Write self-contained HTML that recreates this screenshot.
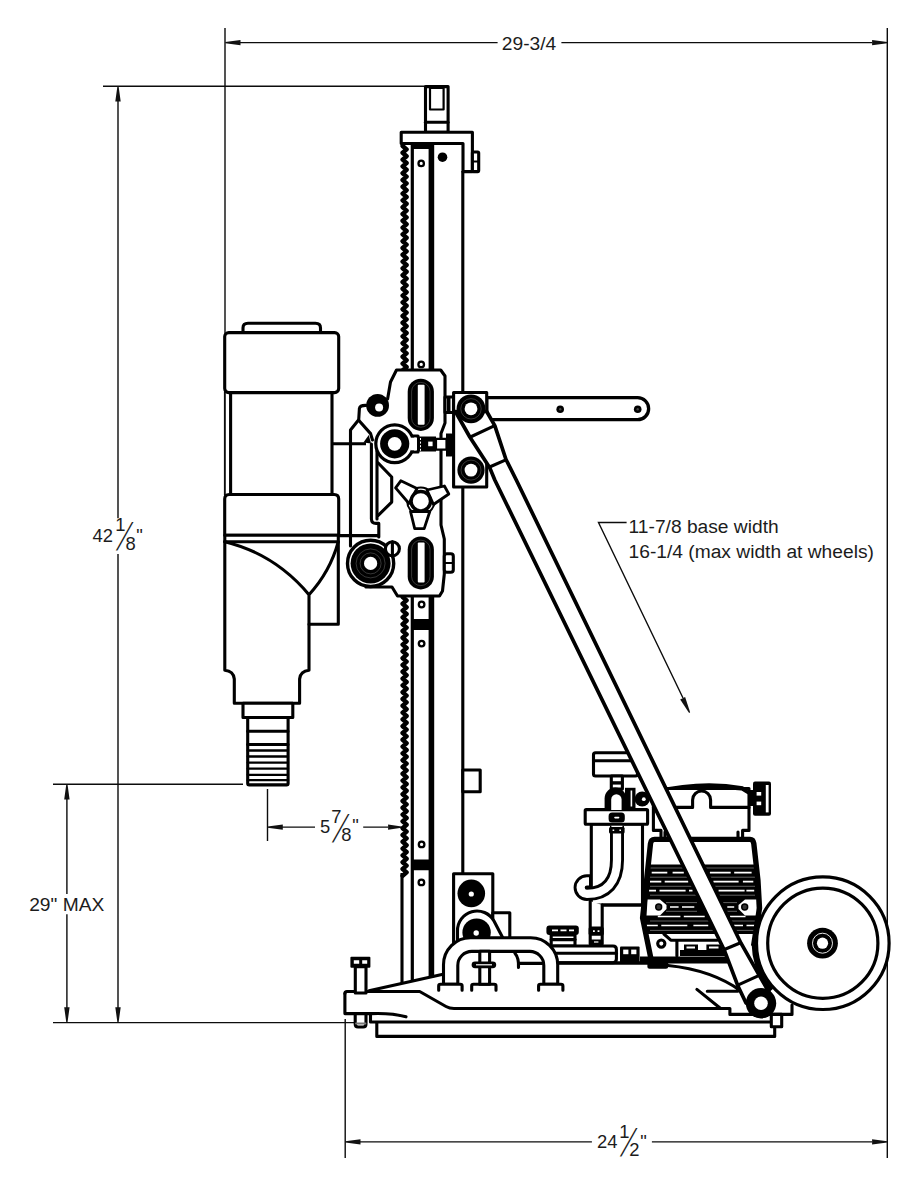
<!DOCTYPE html>
<html lang="en">
<head>
<meta charset="utf-8">
<title>Core drill rig dimensions</title>
<style>
html,body{margin:0;padding:0;background:#fff;}
body{width:921px;height:1200px;overflow:hidden;font-family:"Liberation Sans",sans-serif;}
svg{display:block;}
.t{stroke:#000;stroke-width:3.1;fill:none;stroke-linejoin:round;stroke-linecap:round;}
.tw{stroke:#000;stroke-width:3.1;fill:#fff;stroke-linejoin:round;stroke-linecap:round;}
.m{stroke:#000;stroke-width:1.8;fill:none;stroke-linejoin:round;stroke-linecap:round;}
.d{stroke:#0c0c0c;stroke-width:1.4;fill:none;}
.a{fill:#111;stroke:none;}
.k{fill:#000;stroke:none;}
.w{fill:#fff;stroke:none;}
.f{font-size:18.4px}
.fs{font-size:18.7px}
.n{font-size:19.2px}
text{font-family:"Liberation Sans",sans-serif;font-size:19.2px;fill:#1c1c1c;}
</style>
</head>
<body>
<svg width="921" height="1200" viewBox="0 0 921 1200">
<rect width="921" height="1200" fill="#fff"/>

<!-- DIMENSIONS -->
<g id="dims">
<!-- top 29-3/4 -->
<path class="d" d="M225 28V500M887.3 28V1158M240 42.6H497.6M561.4 42.6H872"/>
<path class="a" d="M225.3 42.0L240.5 39.9L240.5 45.3L225.3 43.2zM887.3 43.2L872.1 45.3L872.1 39.9L887.3 42.0z"/>
<text x="501.8" y="49.5">29-3/4</text>
<!-- left 42 1/8 -->
<path class="d" d="M103 86.3H425M118 100V518.2M118 553.9V1008M53 784.2H243M53 1022.6H354M66.9 799V894M66.9 914.3V1008"/>
<path class="a" d="M118.6 86.2L120.7 101.4L115.3 101.4L117.4 86.2zM117.4 1022.4L115.3 1007.2L120.7 1007.2L118.6 1022.4zM67.5 784.2L69.6 799.4L64.2 799.4L66.3 784.2zM66.3 1022.4L64.2 1007.2L69.6 1007.2L67.5 1022.4z"/>
<text x="92.6" y="541.5" class="f">42</text>
<text x="115.3" y="531.3" class="f">1</text>
<text x="125.6" y="549.5" class="f">8</text>
<text x="136.2" y="541.5" class="f">"</text>
<text class="fs" transform="matrix(1.07 0 -0.877 2.07 116 550.4)" x="0" y="0">/</text>
<text x="29.2" y="910.9">29" MAX</text>
<!-- 5 7/8 -->
<path class="d" d="M267.5 789V841M282 827.1H315M363.2 827.1H388"/>
<path class="a" d="M267.6 826.5L282.8 824.4L282.8 829.8L267.6 827.7zM401.6 827.7L388.1 829.8L388.1 824.4L401.6 826.5z"/>
<text x="320" y="832.6" class="f">5</text>
<text x="331.3" y="822.6" class="f">7</text>
<text x="341.2" y="840.8" class="f">8</text>
<text x="352.2" y="832.3" class="f">"</text>
<text class="fs" transform="matrix(1.07 0 -0.877 2.07 332.1 841.5)" x="0" y="0">/</text>
<!-- 24 1/2 -->
<path class="d" d="M345.2 1019V1158M360 1141.9H591.9M651.9 1141.9H872"/>
<path class="a" d="M345.3 1141.3L360.5 1139.2L360.5 1144.6L345.3 1142.5zM887.3 1142.5L872.1 1144.6L872.1 1139.2L887.3 1141.3z"/>
<text x="597" y="1148" class="f">24</text>
<text x="619.3" y="1138" class="f">1</text>
<text x="629.2" y="1155.6" class="f">2</text>
<text x="640.2" y="1148" class="f">"</text>
<text class="fs" transform="matrix(1.07 0 -0.877 2.07 620.1 1156.3)" x="0" y="0">/</text>
<!-- leader -->
<path class="d" d="M626.6 522.5H598.5L683 698"/>
<path class="a" d="M689.1 712.9L680.2 699.4L685.1 697.0L690.1 712.3z"/>
<text x="628.6" y="533.2" class="n">11-7/8 base width</text>
<text x="628.6" y="557.5" class="n">16-1/4 (max width at wheels)</text>
</g>

<!-- MOTOR -->
<g id="motor">
<path class="d" d="M224.6 392V495"/>
<path class="tw" d="M243 332.5V328Q243 323.2 248 323.2H315.5Q320.5 323.2 320.5 328V332.5"/>
<rect class="tw" x="224.7" y="332.6" width="114" height="60" rx="4"/>
<path class="tw" d="M230.6 392.6V494.5H332V392.6z"/>
<path class="tw" d="M224.7 535.3V499Q224.7 494.5 229.2 494.5H334.2Q338.7 494.5 338.7 499V535.3z"/>
<path class="tw" d="M224.8 535.3H338.3V624.2H309V670.3Q300.5 671 299.6 679V703.3H234.3V679Q233.5 671 224.8 670.3z"/>
<path class="t" d="M224.8 541.7H338.3"/>
<path class="t" d="M224.8 541.7Q275 554 309 594.7Q330 572 338.3 541.7M309 594.7V624.2"/>
<rect class="tw" x="243" y="703.3" width="49.8" height="14.2"/>
<rect class="tw" x="247.7" y="717.5" width="40.4" height="67.4" rx="1.5"/>
<path class="t" d="M247.7 731.2H288M247.7 744.5H288"/>
<path class="m" style="stroke-width:2.3" d="M247.7 750.5H288M247.7 756.5H288M247.7 762.6H288M247.7 768.7H288M247.7 774.8H288M247.7 780.2H288"/>
</g>

<!-- COLUMN -->
<g id="column">
<!-- top cap -->
<rect class="tw" x="425.5" y="86.6" width="22.6" height="45.6"/>
<rect class="t" x="430" y="88" width="13.6" height="21.5" style="stroke-width:2.2"/>
<path class="t" d="M425.5 122.3H448"/>
<!-- rack -->
<path class="t" style="stroke-width:4.4" d="M402.6 146L406.6 149.4L402.6 152.8L406.6 156.2L402.6 159.6L406.6 163.0L402.6 166.4L406.6 169.8L402.6 173.2L406.6 176.6L402.6 180.0L406.6 183.4L402.6 186.8L406.6 190.2L402.6 193.6L406.6 197.0L402.6 200.4L406.6 203.8L402.6 207.2L406.6 210.6L402.6 214.0L406.6 217.4L402.6 220.8L406.6 224.2L402.6 227.6L406.6 231.0L402.6 234.4L406.6 237.8L402.6 241.2L406.6 244.6L402.6 248.0L406.6 251.4L402.6 254.8L406.6 258.2L402.6 261.6L406.6 265.0L402.6 268.4L406.6 271.8L402.6 275.2L406.6 278.6L402.6 282.0L406.6 285.4L402.6 288.8L406.6 292.2L402.6 295.6L406.6 299.0L402.6 302.4L406.6 305.8L402.6 309.2L406.6 312.6L402.6 316.0L406.6 319.4L402.6 322.8L406.6 326.2L402.6 329.6L406.6 333.0L402.6 336.4L406.6 339.8L402.6 343.2L406.6 346.6L402.6 350.0L406.6 353.4L402.6 356.8L406.6 360.2L402.6 363.6L406.6 367.0L402.6 370.4"/>
<path class="t" style="stroke-width:4.4" d="M402.6 597L406.6 600.4L402.6 603.8L406.6 607.2L402.6 610.6L406.6 614.0L402.6 617.4L406.6 620.8L402.6 624.2L406.6 627.6L402.6 631.0L406.6 634.4L402.6 637.8L406.6 641.2L402.6 644.6L406.6 648.0L402.6 651.4L406.6 654.8L402.6 658.2L406.6 661.6L402.6 665.0L406.6 668.4L402.6 671.8L406.6 675.2L402.6 678.6L406.6 682.0L402.6 685.4L406.6 688.8L402.6 692.2L406.6 695.6L402.6 699.0L406.6 702.4L402.6 705.8L406.6 709.2L402.6 712.6L406.6 716.0L402.6 719.4L406.6 722.8L402.6 726.2L406.6 729.6L402.6 733.0L406.6 736.4L402.6 739.8L406.6 743.2L402.6 746.6L406.6 750.0L402.6 753.4L406.6 756.8L402.6 760.2L406.6 763.6L402.6 767.0L406.6 770.4L402.6 773.8L406.6 777.2L402.6 780.6L406.6 784.0L402.6 787.4L406.6 790.8L402.6 794.2L406.6 797.6L402.6 801.0L406.6 804.4L402.6 807.8L406.6 811.2L402.6 814.6L406.6 818.0L402.6 821.4L406.6 824.8L402.6 828.2L406.6 831.6L402.6 835.0L406.6 838.4L402.6 841.8L406.6 845.2L402.6 848.6L406.6 852.0L402.6 855.4L406.6 858.8L402.6 862.2L406.6 865.6L402.6 869.0L406.6 872.4L402.6 875.8"/>
<path class="t" style="stroke-linecap:butt" d="M402 873V983.5"/>
<!-- rails -->
<path class="t" style="stroke-width:3.2;stroke-linecap:butt" d="M412.3 143V372M412.3 596V981.5"/>
<path class="t" style="stroke-width:5.6;stroke-linecap:butt" d="M431.4 143V372M431.4 596V977.5"/>
<path class="t" style="stroke-linecap:butt" d="M462.8 171V392M462.8 484V874"/>
<path class="k" d="M411 619H434V630H411zM411 859.5H434V870.3H411z"/>
<!-- top plate -->
<path class="tw" d="M401.2 132.3H472.4V171.6H463V143.5H401.2z"/>
<path class="k" d="M411 143.5H434V149H411z"/>
<rect class="tw" x="472.4" y="152" width="6.3" height="19.6" rx="1"/>
<path class="m" d="M472.4 161.5H478.7"/>
<circle class="k" cx="442.5" cy="157.2" r="4.8"/>
<g class="m" style="stroke-width:2.3">
<circle cx="421.2" cy="163.4" r="2.7"/><circle cx="421.2" cy="364.4" r="2.8"/>
<circle cx="421.6" cy="604.5" r="2.8"/><circle cx="421.6" cy="643.6" r="2.8"/>
<circle cx="421.6" cy="844.4" r="2.8"/><circle cx="421.4" cy="882.4" r="2.8"/>
</g>
<rect class="tw" x="462.8" y="770" width="17.4" height="21.8"/>
</g>

<!-- CARRIAGE -->
<g id="carriage">
<!-- plate fill -->
<path class="w" d="M396.5 370H440.7L445 376V423L441 433.5V525L444.3 539V574L442.5 591L439.5 596H397.5L392 587H364L360 545L372 537V455L366 440L359 420V406L380 400L390.5 382z"/>
<!-- links from motor -->
<path class="t" style="stroke-linecap:butt" d="M332 443.8H366M338.5 535.6H378"/>
<!-- left piece -->
<path class="t" d="M350.5 546V430L358.7 419.8L359.4 408.5Q360 405.2 366 405.4"/>
<path class="t" d="M358.7 420.2L370.6 433.6L372.5 440"/>
<path class="k" d="M363.4 442.4L368.8 435L371 443.6z"/>
<!-- wedge -->
<path class="t" d="M371.4 444V519Q371.6 523.4 376 523.4H378.8V537"/>
<path class="t" d="M377 451V519"/>
<path class="t" d="M378.2 463L391.7 477V502.1L378.2 515.4"/>
<!-- plate outline -->
<path class="t" d="M387.6 399L390.5 382L396.5 370H440.7L445 376V423L441 433.5V525L444.3 539V574L442.5 591L439.5 596H397.5L392 587H366"/>
<!-- upper-left roller -->
<circle class="k" cx="377.6" cy="405.4" r="11.4"/>
<circle class="w" cx="379.1" cy="407.4" r="4"/>
<!-- slots -->
<rect class="k" x="407.7" y="378.7" width="26.2" height="52.2" rx="13"/>
<rect class="w" x="417.8" y="384.8" width="6.8" height="40" rx="1"/>
<rect class="k" x="407.7" y="536.6" width="26.2" height="52.8" rx="13"/>
<rect class="w" x="417.8" y="542.6" width="6.8" height="40" rx="1"/>
<g style="stroke:#fff;stroke-width:0.7;fill:none;opacity:.3">
<rect x="411.6" y="382.4" width="18.4" height="44.8" rx="9"/>
<rect x="411.6" y="540.2" width="18.4" height="45.4" rx="9"/>
</g>
<!-- middle roller with screw -->
<path class="k" d="M446 433.4h5.5q1.5 0 1.5 2v19q0 2-1.5 2H446z"/>
<path class="tw" d="M410 436H418V452H410z"/>
<path class="k" d="M418 436.5H436V451.5H418z"/>
<path class="tw" style="stroke-width:2.2" d="M436 438.8H446.5V449.6H436z"/>
<rect class="w" x="428.2" y="441.6" width="4.4" height="4.6"/>
<path style="stroke:#fff;stroke-width:1;stroke-dasharray:2 1.6;fill:none" d="M420.5 438V451"/>
<circle class="tw" style="stroke-width:3.2" cx="394.7" cy="443.8" r="18.9"/>
<circle class="k" cx="394.7" cy="443.8" r="14.6"/>
<circle class="w" cx="394.7" cy="443.8" r="6.9"/>
<path class="w" d="M411 437.7h6v12.6h-6z"/>
<!-- knob -->
<circle class="tw" style="stroke-width:2" cx="420.8" cy="501.2" r="13.6"/>
<g class="tw" style="stroke-width:2.8">
<path d="M417 488.5L400.8 480.8L395.6 487.8L409 503.5z"/>
<path d="M427 490L444.4 486L448.8 494L433.5 504.5z"/>
<path d="M410.5 511.5L414.7 528.6H424.2L429.8 511.5z"/>
</g>
<circle class="tw" style="stroke-width:3.4" cx="420.8" cy="501.2" r="9.7"/>
<!-- lower-left roller -->
<circle class="tw" style="stroke-width:3.4" cx="370.6" cy="563.4" r="23.1"/>
<circle class="k" cx="370.6" cy="563.4" r="20"/>
<circle style="stroke:#fff;stroke-width:.7;fill:none;opacity:.3" cx="370.6" cy="563.4" r="10.5"/>
<circle style="stroke:#fff;stroke-width:.7;fill:none;opacity:.3" cx="370.6" cy="563.4" r="14.5"/>
<circle class="w" cx="370.6" cy="563.4" r="6.6"/>
<!-- pin -->
<circle class="tw" cx="392.4" cy="548.8" r="7"/>
<path class="t" d="M392.4 541.8V555.8"/>
<!-- small bolt right -->
<rect class="tw" x="444.3" y="553.8" width="9" height="18.4" rx="2.5"/>
<path class="m" d="M444.3 563H453.3"/>
<!-- connector to bracket -->
<path class="tw" d="M445 397H453.5V412.5H445z"/>
<path class="k" d="M447 397h3.5v15.5h-3.5z"/>
</g>

<!-- BRACE -->
<!-- BASE -->
<g id="base">
<!-- gusset -->
<path class="t" d="M369 990.8L443 974.3"/>
<!-- casting -->
<path class="tw" d="M344.9 993.5Q344.9 991.5 347 991.5H419.7L446 1006.5Q449.5 1008.5 454 1008.5H729.9V1014.4H792V1005"/>
<path class="t" d="M344.9 993.5V1013.6H371Q392 1012.8 406 1016.8"/>
<path class="t" d="M370.5 1014V1022H771.3M376.8 1022V1036.4H774.7V1026.8"/>
<rect class="tw" x="771.3" y="1014.4" width="10.4" height="12.4"/>
<!-- leveling bolt -->
<path class="tw" d="M355.3 966.8H366V993H355.3z"/>
<rect class="k" x="350.4" y="956.8" width="20" height="11" rx="1"/>
<path class="w" d="M353.8 960.2h5.4v3.6h-5.4zM362.2 960.2h5v3.6h-5z"/>
<path class="tw" d="M355.2 1013.8V1024Q355.2 1027 358 1027H363.2Q366 1027 366 1024V1013.8z"/>
<path class="m" style="stroke:#777" d="M356 1023.5H365.5"/>
<!-- box with bearings -->
<rect class="tw" x="453.6" y="873.8" width="39.2" height="70"/>
<rect class="tw" x="492.8" y="912.8" width="17" height="30"/>
<circle class="k" cx="471.3" cy="893.4" r="13.8"/><circle class="w" cx="471.3" cy="894" r="2.6"/>
<path class="tw" d="M457.5 944V931A19.5 19.5 0 0 1 494 921L506 944z"/>
<circle class="k" cx="476.6" cy="932.6" r="14.2"/><circle class="w" cx="476.2" cy="933" r="2.7"/>
</g>

<!-- PUMP -->
<g id="pump">
<!-- bowl / filter -->
<path class="tw" d="M591.3 824V905H642.5V824z"/>
<path class="t" d="M602 905H642"/>
<rect class="tw" x="585.2" y="809.6" width="62.4" height="14.6" rx="1"/>
<!-- air cleaner box -->
<rect class="tw" x="593.5" y="752.8" width="44" height="23.2" rx="2"/>
<path class="t" d="M593.5 760.8H637"/>
<path class="tw" d="M611.3 776H622.4V789H611.3z"/>
<path class="k" d="M611.3 781.2H622.4V784.6H611.3z"/>
<!-- valve -->
<path class="k" d="M604.6 810V798.4A10.8 10.8 0 0 1 626.2 798.4V810z"/>
<path class="w" d="M611.2 810V799.4A5.2 5.2 0 0 1 621.6 799.4V810z"/>
<rect class="k" x="625" y="787.8" width="10.5" height="21"/>
<path class="w" d="M630.6 790.5h1.6v16h-1.6z"/>
<circle class="k" cx="642.2" cy="799" r="7.6"/><circle class="w" cx="643.8" cy="799.2" r="1.9"/>
<!-- hose -->
<path style="stroke:#000;stroke-width:14;fill:none;stroke-linecap:butt" d="M617 826V860C617 882 606 893.9 586.9 893.9A6.3 6.3 0 0 1 586.9 881.3H590.5"/>
<path style="stroke:#fff;stroke-width:8.2;fill:none;stroke-linecap:butt" d="M617 826V860C617 882 606 893.9 586.9 893.9A6.3 6.3 0 0 1 586.9 881.3H589"/>
<rect class="k" x="608.6" y="812.4" width="16.2" height="10.2" rx="3.5"/>
<rect class="w" x="614.2" y="816.8" width="5.2" height="1.6" rx=".8"/>
<rect class="w" x="611.4" y="825.8" width="11" height="1.4"/>
<rect class="k" x="609" y="827" width="15.6" height="6.4" rx="1.5"/>
<path class="w" d="M612.6 829.4h1.6v1.6h-1.6zM619.4 829.4h1.6v1.6h-1.6z"/>
<!-- lower pipe -->
<path class="tw" d="M590.2 901V944H602.2V905"/>
<rect class="k" x="588.6" y="926.4" width="15.2" height="9.4" rx="2.5"/>
<path class="w" d="M593 930.2h1.8v1.8h-1.8zM597.6 930.2h1.8v1.8h-1.8z"/>
<path class="k" d="M589.6 939.6H602.8V942.5Q602.8 945.5 599.8 945.5H592.6Q589.6 945.5 589.6 942.5z"/>
<path class="w" d="M594 941.4h4.4v1.2h-4.4z"/>
<!-- filler cap -->
<rect class="k" x="546.4" y="925.4" width="32.4" height="9.6" rx="3"/>
<path style="stroke:#fff;stroke-width:1.8;stroke-dasharray:6 2.5;fill:none" d="M552 930.4H574"/>
<path class="tw" d="M551.2 935H575V946H551.2z"/>
<path class="t" d="M551.2 939.6H575"/>
<!-- tank top -->
<path class="tw" d="M553.3 946H613Q616.4 946 616.4 949.5V959Q616.4 962.7 613 962.7H558.2"/>
<path class="t" d="M553.3 953.3H616.4"/>
<path class="t" style="stroke-width:3.6;stroke-linecap:butt" d="M558.2 963H650"/>
<rect class="k" x="620" y="946.6" width="19.6" height="17.4" rx="1"/>
<rect class="w" x="623.2" y="949.6" width="5.2" height="4.6"/><rect class="w" x="631.2" y="949.6" width="5.2" height="4.6"/>
<!-- engine cover -->
<path class="tw" d="M661 838V830.4H653.4V788.5H749V830.4H742.6V838"/>
<path class="k" d="M655 790Q701 779 743 786.2L750.5 792.5V796L741.5 790.5Q701 786.5 655 791z"/>
<path class="t" d="M653.4 807.4H692.6V800A9 9 0 0 1 710.6 800V807.4H749"/>
<path class="t" d="M665 832V838M738 832V838"/>
<!-- knob -->
<rect class="k" x="753" y="781.6" width="18" height="34.2" rx="2"/>
<rect class="w" x="765.8" y="785" width="2.8" height="27.4"/>
<rect class="w" x="756.6" y="792" width="4.6" height="3.6"/><rect class="w" x="756.6" y="801.6" width="4.6" height="3.6"/>
<path class="k" d="M749 790h5v16h-5z"/>
<!-- engine body -->
<path class="k" d="M648 864.4H756L759.5 906L755.5 934H645L642 918z"/>
<path style="stroke:#fff;stroke-width:1.7;fill:none" d="M651.7 872.6H667.3M672.6 872.6H683.8M688 872.6H706M709.9 872.6H730.7M734.2 872.6H751.6M650 881.6H661.3M664.7 881.6H688.2M692 881.6H710M713.4 881.6H738.6M742.9 881.6H753.3M649.1 890.7H656M659.5 890.7H685.6M689 890.7H692.5M696 890.7H715M718.6 890.7H744.6M746.4 890.7H754.2M670 907H678.6M682 907H694.3M727.3 907H734.2M657.8 916.5H680.4M683.8 916.5H704.7M730 916.5H745.5M646.5 925.5H657.8M661.3 925.5H687.3M693.4 925.5H708.2M734 925.5H743M746.5 925.5H756"/>
<path style="stroke:#fff;stroke-width:.7;fill:none;opacity:.55" d="M650 868H755M650 877.2H755M650 886.3H755M650 895.2H755M650 921H755M650 930.4H755M666 902.6H697M666 911.3H697M722 902.6H737M722 911.3H737"/>
<!-- screw band tabs -->
<path class="w" d="M647.5 899.4H660L666.5 905V909L660 915.6H646.5z"/>
<path class="w" d="M756.6 899.4H745L738.5 905V909L745 915.6H757z"/>
<circle class="k" cx="658.7" cy="907" r="3.7"/><circle style="fill:#333" cx="658.7" cy="907" r="2.2"/>
<circle class="k" cx="744.7" cy="907" r="3.7"/><circle style="fill:#333" cx="744.7" cy="907" r="2.2"/>
<!-- bottom section -->
<path class="w" d="M647.5 934H757V956.5H651.5z"/>
<path class="t" d="M663.9 934L670.8 940.2H717M676.9 940.2V956"/>
<circle class="t" cx="661.3" cy="943.6" r="3.6"/>
<path class="k" d="M684 944.5H698V954H684zM706.4 944.5H722V954H706.4zM680 950H726V956H680z"/>
<path class="w" d="M686.5 946.6h8.5v1.8h-8.5zM709 946.6h9.5v1.8h-9.5z"/>
<path class="k" d="M640 956.4H728V963.6H640zM647.4 963H668.2V967Q668.2 968.8 666 968.8H649.5Q647.4 968.8 647.4 967z"/>
<path style="stroke:#000;stroke-width:5.4;fill:none;stroke-linejoin:round;stroke-linecap:butt" d="M651 959L642.6 918L650.5 843.5Q651 839.4 654.5 839.4H750Q753.2 839.4 753.8 843.5L757.9 880L759.5 908L753.6 946"/>
<path style="stroke:#000;stroke-width:4;fill:none" d="M753.7 945A69.3 69.3 0 0 0 771.7 990"/>
<!-- fender -->
<path class="t" d="M668 965.5Q712 970 741 991M696.9 989.4L720.3 1008.3M707.3 991.2H737.7"/>
</g>

<!-- WHEEL -->
<g id="handle">
<path class="tw" d="M443.5 984.3V964.8A27 27 0 0 1 470.5 937.8H530.7A27 27 0 0 1 557.7 964.8V984.3H543.8V965.4A14 14 0 0 0 529.8 951.4H471.8A14 14 0 0 0 457.8 965.4V984.3z"/>
<path class="tw" d="M438.7 990.3V986Q438.7 984.3 440.5 984.3H460.3Q462.1 984.3 462.1 986V990.3M538.6 990.3V986Q538.6 984.3 540.4 984.3H561Q562.9 984.3 562.9 986V990.3M471.7 990.3V986Q471.7 984.3 473.5 984.3H494.2Q496 984.3 496 986V990.3"/>
<path class="tw" d="M479.8 951.2H489.6V984.3H479.8z"/>
<rect class="k" x="471.6" y="961.4" width="24.6" height="6.8" rx="3.4"/>
<path class="w" d="M476 964.2h16v1.2h-16z"/>
<path class="t" d="M514.8 953Q519 958 518.5 967.5M518.5 963.4H542"/>
</g>
<g id="wheel">
<circle class="tw" style="stroke-width:3.2" cx="822.8" cy="943.2" r="66.3"/>
<circle class="t" style="stroke-width:3.2" cx="822.8" cy="943.2" r="55.1"/>
<circle class="k" cx="822.5" cy="943.2" r="15.4"/>
<circle style="stroke:#fff;stroke-width:.9;fill:none" cx="822.5" cy="943.2" r="10"/>
<circle class="w" cx="822.5" cy="943.2" r="5.6"/>
</g>
<!-- BRACE -->
<g id="brace">
<!-- horizontal arm -->
<path class="tw" style="stroke-width:3.3" d="M486.7 397.6H637.6A11.05 11.05 0 0 1 637.6 419.7H486.7z"/>
<circle class="k" cx="560.2" cy="409.3" r="3.8"/><circle class="k" cx="637.7" cy="409.3" r="3.8"/>
<circle style="fill:#444" cx="560.2" cy="409.3" r="1.2"/><circle style="fill:#444" cx="637.7" cy="409.3" r="1.2"/>
<!-- bracket -->
<rect class="tw" x="453.6" y="392.5" width="33.1" height="94.5"/>
<!-- brace tube -->
<path class="tw" style="stroke-width:3.7" d="M455.4 411.5L469.8 437L489.6 467.4L494.8 480L724 949.5L737.6 985.2L746 1003L770 994L759.4 975.6L741 943.2L516.3 480L506 459.5L494.8 425.6L486.7 411.5z"/>
<path class="t" d="M725 949.3L740 943M737.8 985.2L759.2 975.4"/>
<circle class="k" cx="761" cy="1003.2" r="15.2"/><circle class="w" cx="761" cy="1003.2" r="6.8"/>
<path class="t" d="M470.4 437L493.6 426.2M489.6 467L505.8 459.8"/>
<!-- rollers -->
<g>
<circle class="k" cx="471" cy="408.8" r="14.4"/><circle style="stroke:#fff;stroke-width:.7;fill:none;opacity:.3" cx="471" cy="408.8" r="10.2"/><circle class="w" cx="471" cy="408.8" r="6.4"/>
<circle class="k" cx="471" cy="470.1" r="13.6"/><circle style="stroke:#fff;stroke-width:.7;fill:none;opacity:.3" cx="471" cy="470.1" r="10"/><circle class="w" cx="471" cy="470.1" r="6.4"/>
</g>
</g>
</svg>
</body>
</html>
